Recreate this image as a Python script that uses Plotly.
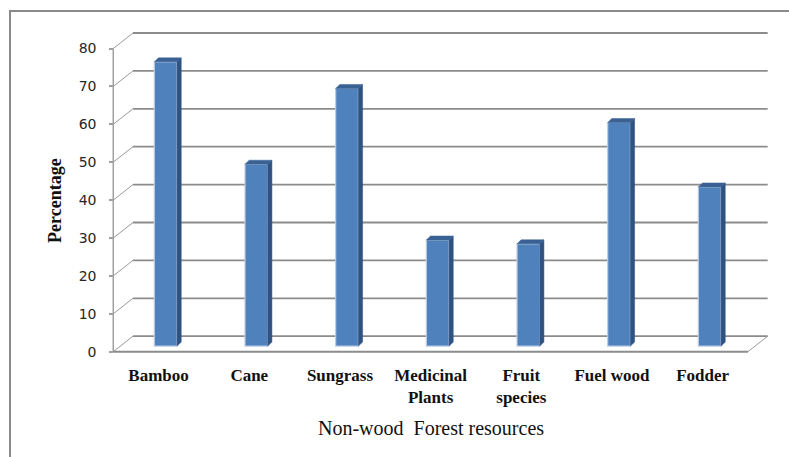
import plotly.graph_objects as go

# Survey results: share of respondents collecting each non-wood forest resource
categories = ["Bamboo", "Cane", "Sungrass", "Medicinal<br>Plants", "Fruit<br>species", "Fuel wood", "Fodder"]
percentages = [75, 48, 68, 28, 27, 59, 42]
y_ticks = [0, 10, 20, 30, 40, 50, 60, 70, 80]
y_title = "Percentage"
x_title = "Non-wood\u00a0 Forest resources"

W, H = 789, 457

# pseudo-3D geometry (front plane coordinates, category units / value units)
X_PER_CAT = 90.67          # px per category
Y_PER_UNIT = 3.79          # px per percentage point
X0_PX = 158.6              # px of category 0 on front plane
Y0_PX = 351.7              # px of value 0 on front plane
DEPTH_X = 19.7 / X_PER_CAT   # full depth shift, x
DEPTH_Y = 15.5 / Y_PER_UNIT  # full depth shift, y
BAR_POS = 0.36               # depth of bar front face
BAR_W = 22.7 / X_PER_CAT
BAR_DX = 4.2 / X_PER_CAT
BAR_DY = 4.0 / Y_PER_UNIT

x_range = [-X0_PX / X_PER_CAT, (W - X0_PX) / X_PER_CAT]
y_range = [(Y0_PX - H) / Y_PER_UNIT, Y0_PX / Y_PER_UNIT]

n = len(categories)
left, right = -0.5, n - 0.5
grid_col = "#8c8c8c"

shapes = []
# back wall gridlines and diagonal connectors to the front axis
for v in y_ticks:
    shapes.append(dict(type="line", xref="x", yref="y", layer="below",
                       x0=left + DEPTH_X, x1=right + DEPTH_X, y0=v + DEPTH_Y, y1=v + DEPTH_Y,
                       line=dict(color=grid_col, width=1.8)))
    shapes.append(dict(type="line", xref="x", yref="y", layer="below",
                       x0=left, x1=left + DEPTH_X, y0=v, y1=v + DEPTH_Y,
                       line=dict(color="#9a9a9a", width=1)))
# front value axis
shapes.append(dict(type="line", xref="x", yref="y", layer="below",
                   x0=left, x1=left, y0=0, y1=y_ticks[-1],
                   line=dict(color="#a0a0a0", width=1.5)))
# floor front edge and right diagonal
shapes.append(dict(type="line", xref="x", yref="y", layer="below",
                   x0=left, x1=right, y0=0, y1=0,
                   line=dict(color="#8c8c8c", width=2)))
shapes.append(dict(type="line", xref="x", yref="y", layer="below",
                   x0=right, x1=right + DEPTH_X, y0=0, y1=DEPTH_Y,
                   line=dict(color="#9a9a9a", width=1)))
# chart area border
shapes.append(dict(type="rect", xref="paper", yref="paper",
                   x0=10 / W, x1=1.05, y0=-0.05, y1=1 - 11 / H,
                   line=dict(color="#8a8a8a", width=2), fillcolor="rgba(0,0,0,0)"))

base = BAR_POS * DEPTH_Y
xc = [i + BAR_POS * DEPTH_X for i in range(n)]

fig = go.Figure()
fig.add_trace(go.Bar(
    x=xc, y=percentages, base=base, width=BAR_W,
    marker=dict(color="#4f81bd", line=dict(color="#b9cde5", width=1.2)),
    hoverinfo="skip", showlegend=False,
))

# side faces and top caps derived from bar values
side_x, side_y, cap_x, cap_y = [], [], [], []
for c, v in zip(xc, percentages):
    xl, xr = c - BAR_W / 2, c + BAR_W / 2
    top = base + v
    side_x += [xr, xr + BAR_DX, xr + BAR_DX, xr, xr, None]
    side_y += [base, base + BAR_DY, top + BAR_DY, top, base, None]
    cap_x += [xl, xl + BAR_DX, xr + BAR_DX, xr, xl, None]
    cap_y += [top, top + BAR_DY, top + BAR_DY, top, top, None]

fig.add_trace(go.Scatter(x=side_x, y=side_y, mode="lines", fill="toself",
                         fillcolor="#2f5283", line=dict(color="#2f5283", width=0.5),
                         hoverinfo="skip", showlegend=False))
fig.add_trace(go.Scatter(x=cap_x, y=cap_y, mode="lines", fill="toself",
                         fillcolor="#3a6194", line=dict(color="#3a6194", width=0.5),
                         hoverinfo="skip", showlegend=False))

fig.update_layout(
    width=W, height=H,
    margin=dict(l=0, r=0, t=0, b=0),
    paper_bgcolor="white", plot_bgcolor="white",
    shapes=shapes,
    xaxis=dict(range=x_range, anchor="free", position=1 - 363 / H,
               tickvals=list(range(n)), ticktext=categories,
               tickfont=dict(family="Liberation Serif", size=17, color="#111111", weight="bold"),
               showgrid=False, zeroline=False, showline=False, ticks="", fixedrange=True),
    yaxis=dict(range=y_range, anchor="free", position=113.3 / W,
               tickvals=y_ticks, ticktext=[str(t) for t in y_ticks],
               tickfont=dict(family="DejaVu Sans", size=14, color="#262626"),
               ticks="outside", ticklen=4, tickcolor="#a0a0a0", tickwidth=1.5,
               ticklabelstandoff=10,
               showgrid=False, zeroline=False, showline=False, fixedrange=True),
    annotations=[
        dict(text=y_title, xref="paper", yref="paper", x=55 / W, y=1 - 200 / H,
             textangle=-90, showarrow=False, xanchor="center", yanchor="middle",
             font=dict(family="Liberation Serif", size=18, color="#111111", weight="bold")),
        dict(text=x_title, xref="paper", yref="paper", x=431 / W, y=1 - 428 / H,
             showarrow=False, xanchor="center", yanchor="middle",
             font=dict(family="Liberation Serif", size=20, color="#111111")),
    ],
)

fig.write_html("out.html")
